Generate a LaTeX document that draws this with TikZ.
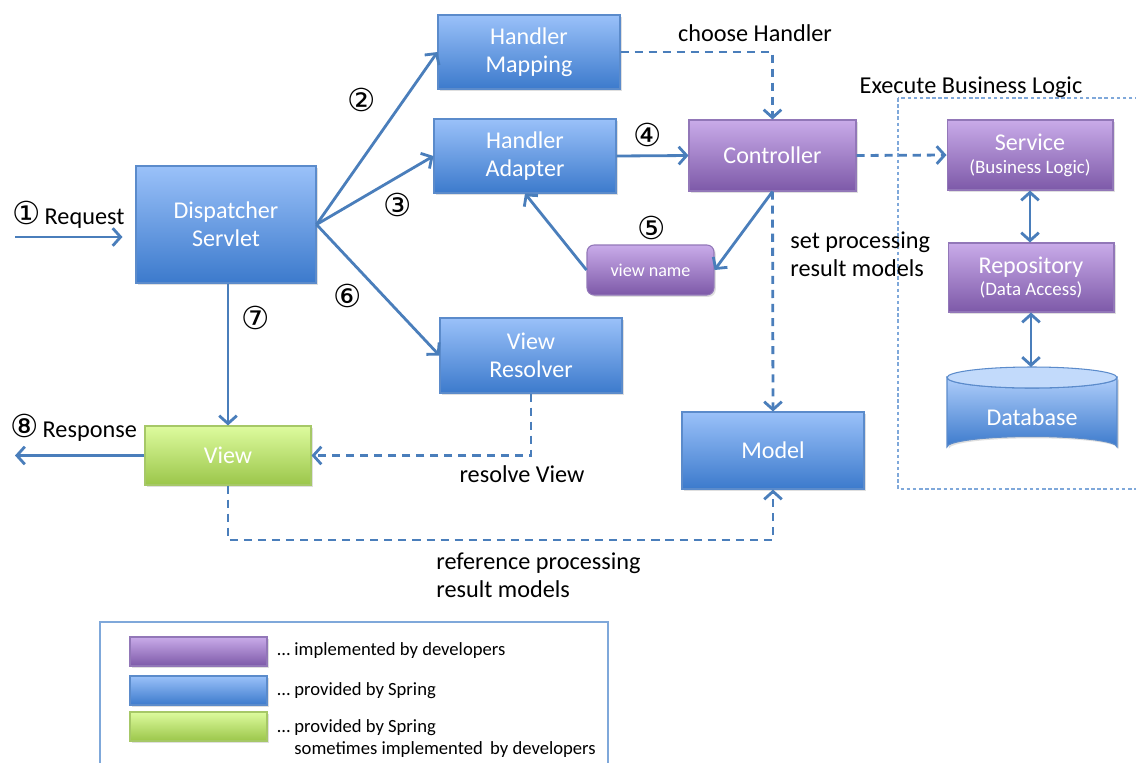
\documentclass[tikz,border=0pt]{standalone}
\usepackage{fontspec}
\setmainfont{Carlito}
\newfontfamily\circfont{DejaVu Sans}
\usetikzlibrary{arrows.meta,shadows}
\definecolor{bluetop}{HTML}{9AC1F9}
\definecolor{bluebot}{HTML}{3C7ACC}
\definecolor{blueline}{HTML}{5B8BCB}
\definecolor{purtop}{HTML}{C9ABE9}
\definecolor{purbot}{HTML}{7D59A8}
\definecolor{purline}{HTML}{9277B8}
\definecolor{grntop}{HTML}{DDFB9E}
\definecolor{grnbot}{HTML}{9BC64A}
\definecolor{grnline}{HTML}{A6C867}
\definecolor{arr}{HTML}{4A7EBB}
\definecolor{boxline}{HTML}{7FA8DA}
\tikzset{
  base/.style={draw, line width=0.6pt, text=white, align=center, inner sep=0pt,
    font=\fontsize{13.7}{16}\selectfont,
    drop shadow={shadow xshift=1pt, shadow yshift=-1pt, opacity=0.25}},
  bluebox/.style={base, draw=blueline, top color=bluetop, bottom color=bluebot},
  purbox/.style={base, draw=purline, top color=purtop, bottom color=purbot},
  grnbox/.style={base, draw=grnline, top color=grntop, bottom color=grnbot},
  conn/.style={draw=arr, line width=1.6pt, >={Straight Barb[length=4.5pt,width=10pt,line width=1.6pt]}, ->},
  dconn/.style={conn, dash pattern=on 4.6pt off 3.4pt},
  lbl/.style={font=\fontsize{13.8}{16}\selectfont, text=black, inner sep=0pt},
  num/.style={font=\circfont\fontsize{18}{20}\selectfont, text=black, inner sep=0pt},
  leg/.style={font=\fontsize{10.6}{13}\selectfont, text=black, inner sep=0pt, anchor=west, align=left},
}
\begin{document}
\begin{tikzpicture}[x=0.02cm,y=-0.02cm]
\useasboundingbox (0,0) rectangle (1136,762);
\clip (0,0) rectangle (1136,762);
\fill[white] (0,0) rectangle (1136,762);
% business logic box
\draw[boxline, line width=0.6pt, dash pattern=on 2pt off 1.5pt] (898,98) rectangle (1150,489);
\node[lbl] (ebl) at (971,87) {Execute Business Logic};
% legend box
\draw[boxline, line width=0.8pt] (100,622) rectangle (608,780);
% nodes
\node[bluebox, minimum width=3.6cm, minimum height=2.34cm] (DS) at (226,224.5) {Dispatcher\\Servlet};
\node[bluebox, minimum width=3.64cm, minimum height=1.48cm] (HM) at (529,52) {Handler\\Mapping};
\node[bluebox, minimum width=3.64cm, minimum height=1.48cm] (HA) at (525,156) {Handler\\Adapter};
\node[purbox, minimum width=3.34cm, minimum height=1.42cm] (Ctrl) at (772.5,155.5) {Controller};
\node[purbox, rounded corners=4pt, minimum width=2.54cm, minimum height=1.0cm, font=\fontsize{10.3}{12}\selectfont] (vn) at (650.5,270) {view name};
\node[bluebox, minimum width=3.64cm, minimum height=1.5cm] (VR) at (531,355.5) {View\\Resolver};
\node[bluebox, minimum width=3.64cm, minimum height=1.54cm] (Model) at (773,450.5) {Model};
\node[grnbox, minimum width=3.32cm, minimum height=1.18cm] (View) at (228,455.5) {View};
\node[purbox, minimum width=3.32cm, minimum height=1.4cm] (Svc) at (1030,155) {Service\\[-3pt]{\fontsize{10.8}{12}\selectfont (Business Logic)}};
\node[purbox, minimum width=3.32cm, minimum height=1.38cm] (Repo) at (1031,277.5) {Repository\\[-3pt]{\fontsize{10.8}{12}\selectfont (Data Access)}};
% database cylinder
\path[draw=blueline, line width=0.6pt, top color=bluetop!80, bottom color=bluebot,
  drop shadow={shadow xshift=1pt, shadow yshift=-1pt, opacity=0.25}]
  (947,377.5) -- (947,447) arc[start angle=180, end angle=360, x radius=85, y radius=10.5]
  -- (1117,377.5) arc[start angle=0, end angle=180, x radius=85, y radius=10.5] -- cycle;
\path[draw=blueline, line width=0.6pt, fill=bluetop!60!white]
  (1032,377.5) ellipse[x radius=85, y radius=10.5];
\node[text=white, font=\fontsize{13.7}{16}\selectfont] (DB) at (1032,417) {Database};
\coordinate (dbtop) at (1032,367);
% connectors
\coordinate (req) at (15,237);
\coordinate (resp) at (15,455.5);
\draw[conn, shorten >=13*0.02cm] (req) -- (req -| DS.west);
\draw[conn] (DS.east) -- (HM.west);
\draw[conn] (DS.east) -- (HA.west);
\draw[conn] (DS.east) -- (VR.west);
\draw[conn] (HA.east) -- (Ctrl.west);
\draw[dconn] (HM.east) -| (Ctrl.north);
\draw[conn] (Ctrl.south) -- (vn.east);
\draw[conn] (vn.west) -- (HA.south);
\draw[dconn] (Ctrl.south) -- (Model.north);
\draw[dconn] (Ctrl.east) -- (Svc.west);
\draw[conn, <->] (Svc.south) -- (Svc.south |- Repo.north);
\draw[conn, <->] (Repo.south) -- (Repo.south |- dbtop);
\draw[conn] (View.north |- DS.south) -- (View.north);
\draw[dconn] (VR.south) |- (View.east);
\draw[conn] (View.west) -- (resp);
\coordinate (low) at (0,540);
\draw[dconn] (View.south) -- (View.south |- low) -| (Model.south);
% labels
\node[lbl, anchor=west] (lreq) at (12,215) {{\circfont\fontsize{18}{20}\selectfont ①}\,Request};
\node[lbl, anchor=west] (lresp) at (10,428) {{\circfont\fontsize{18}{20}\selectfont ⑧}\,Response};
\node[num] (n2) at (362,100) {②};
\node[num] (n3) at (398,205) {③};
\node[num] (n4) at (648,135) {④};
\node[num] (n5) at (652,228) {⑤};
\node[num] (n6) at (348,296) {⑥};
\node[num] (n7) at (256,318) {⑦};
\node[lbl] (lch) at (755,33) {choose Handler};
\node[lbl, anchor=west, align=left] (lset) at (790,254) {set processing\\result models};
\node[lbl] (lres) at (522,474) {resolve View};
\node[lbl, anchor=west, align=left] (lref) at (436,575) {reference processing\\result models};
% legend
\node[purbox, minimum width=2.74cm, minimum height=0.58cm] (lg1) at (198.5,651.5) {};
\node[bluebox, minimum width=2.74cm, minimum height=0.58cm] (lg2) at (198.5,690.5) {};
\node[grnbox, minimum width=2.74cm, minimum height=0.58cm] (lg3) at (198.5,726.5) {};
\node[leg] (t1) at (277,651) {… implemented by developers};
\node[leg] (t2) at (277,691) {… provided by Spring};
\node[leg] (t3) at (277,738.5) {… provided by Spring\\\phantom{… }sometimes implemented \,by developers};
\end{tikzpicture}
\end{document}
